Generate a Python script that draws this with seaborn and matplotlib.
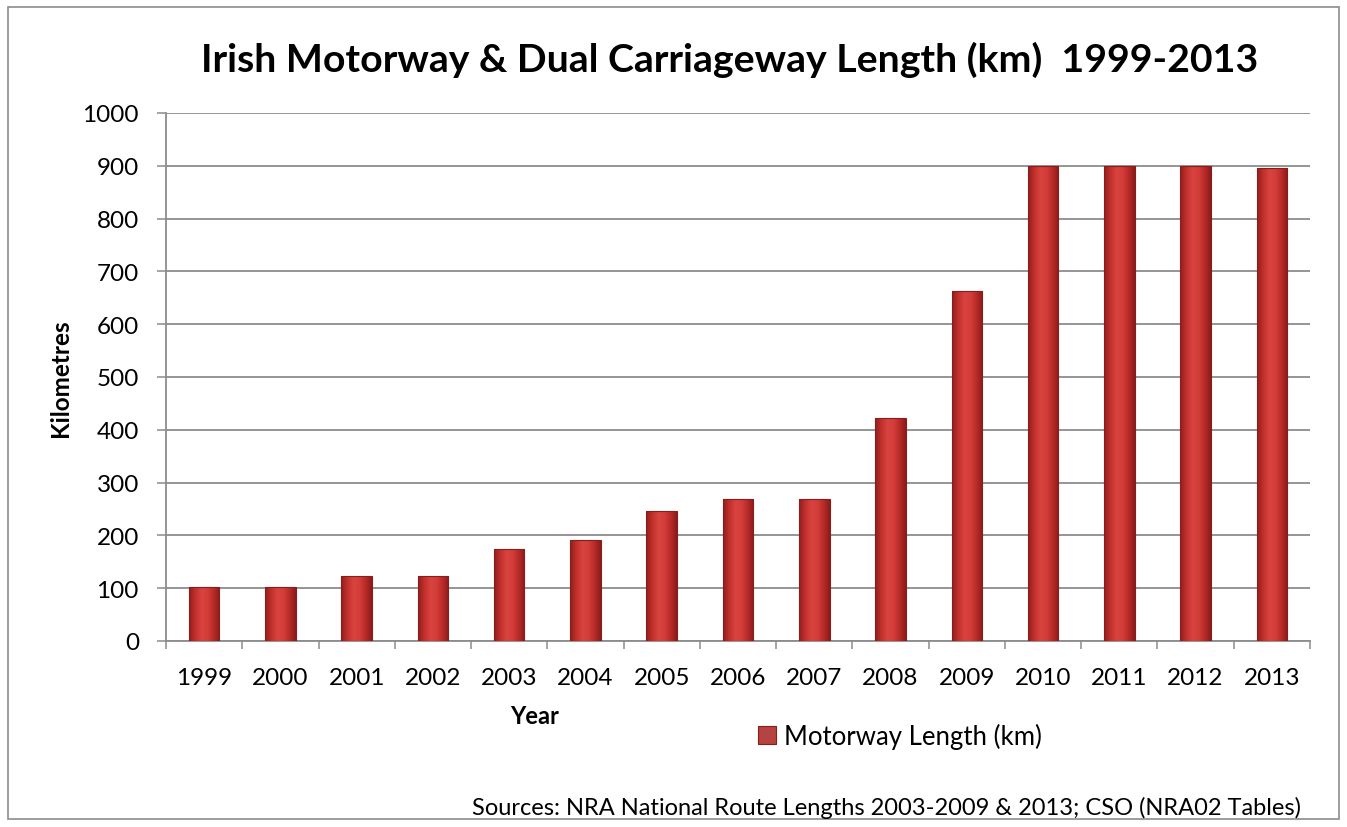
import matplotlib
matplotlib.use("Agg")
import matplotlib.pyplot as plt
import seaborn as sns
import pandas as pd
import numpy as np
from matplotlib.patches import Rectangle
from matplotlib.colors import LinearSegmentedColormap

# ---- data ----
years = ["1999", "2000", "2001", "2002", "2003", "2004", "2005", "2006",
         "2007", "2008", "2009", "2010", "2011", "2012", "2013"]
lengths = [102, 102, 124, 124, 175, 191, 246, 269, 269, 422, 663, 900, 900, 900, 896]
series_name = "Motorway Length (km)"
y_ticks = [0, 100, 200, 300, 400, 500, 600, 700, 800, 900, 1000]
title_text = "Irish Motorway & Dual Carriageway Length (km)  1999-2013"
x_label = "Year"
y_label = "Kilometres"
source_text = "Sources: NRA National Route Lengths 2003-2009 & 2013; CSO (NRA02 Tables)"

# ---- style ----
sns.set_theme(style="white")
plt.rcParams['font.family'] = ['Lato', 'DejaVu Sans']
plt.rcParams['text.color'] = 'black'
plt.rcParams['xtick.color'] = 'black'
plt.rcParams['ytick.color'] = 'black'

W, H = 1347, 828
fig = plt.figure(figsize=(W / 100, H / 100), dpi=100)
fig.patch.set_facecolor("white")
ax = fig.add_axes([166 / W, (H - 642) / H, 1144 / W, 528 / H])

bar_color = "#C8312D"
edge_color = "#8A1D1B"
grid_color = "#8C8C8C"

df = pd.DataFrame({"Year": years, "Length": lengths, "Series": series_name})
sns.barplot(data=df, x="Year", y="Length", hue="Series", palette=[bar_color],
            dodge=False, width=0.4, edgecolor=edge_color, linewidth=0.8,
            ax=ax, zorder=3)

ax.set_xlim(-0.5, len(years) - 0.5)
ax.set_ylim(0, 1000)
ax.set_yticks(y_ticks)
ax.set_yticklabels([str(v) for v in y_ticks])

# gradient shading on bars
cmap = LinearSegmentedColormap.from_list(
    "bevel", ["#8E1F1C", "#C2302C", "#D8433F", "#D43E3A", "#B82B28", "#8A1C1A"])
grad = np.linspace(0, 1, 64).reshape(1, -1)
for p in list(ax.patches):
    x0, y0 = p.get_x(), p.get_y()
    w, h = p.get_width(), p.get_height()
    if h <= 0:
        continue
    im = ax.imshow(grad, cmap=cmap, aspect="auto", extent=[x0, x0 + w, y0, y0 + h],
                   zorder=3.5, interpolation="bicubic")
    im.set_clip_path(p)
    p.set_zorder(4)
    p.set_facecolor("none")
ax.set_xlim(-0.5, len(years) - 0.5)
ax.set_ylim(0, 1000)

# grid & spines
ax.set_axisbelow(True)
ax.yaxis.grid(True, color=grid_color, linewidth=1.3)
ax.xaxis.grid(False)
for s in ["top", "right"]:
    ax.spines[s].set_visible(False)
for s in ["left", "bottom"]:
    ax.spines[s].set_color(grid_color)
    ax.spines[s].set_linewidth(1.3)

# ticks
ax.tick_params(axis="y", which="major", direction="out", length=6.5, width=1.1,
               color=grid_color, pad=13, labelsize=17.5, labelcolor="black", left=True)
ax.tick_params(axis="x", which="major", length=0, pad=19, labelsize=17.5,
               labelcolor="black", bottom=True)
ax.set_xticks(np.arange(-0.5, len(years), 1.0), minor=True)
ax.tick_params(axis="x", which="minor", direction="out", length=6, width=1.1,
               color=grid_color, bottom=True)
ax.set_xlabel("")
ax.set_ylabel("")

# labels
fig.text(730 / W, 1 - 71.5 / H, title_text, ha="center", va="baseline",
         fontsize=28.3, fontweight="bold", color="black")
fig.text(60 / W, 1 - 378 / H, y_label, ha="center", va="center", rotation=90,
         fontsize=17.5, fontweight="bold", color="black")
fig.text(535 / W, 1 - 717 / H, x_label, ha="center", va="center",
         fontsize=17, fontweight="bold", color="black")
fig.text(1301 / W, 1 - 808 / H, source_text, ha="right", va="center",
         fontsize=17, color="black")

# legend
handles, labels = ax.get_legend_handles_labels()
leg = ax.legend(handles, labels, loc="center left", bbox_to_anchor=(758 / W, 1 - 737 / H),
                bbox_transform=fig.transFigure, frameon=False, fontsize=18.5,
                handlelength=0.7, handleheight=0.7, handletextpad=0.3,
                borderpad=0, borderaxespad=0)
for t in leg.get_texts():
    t.set_color("black")

# outer border
fig.patches.append(Rectangle((8 / W, 8 / H), 1 - 16 / W, 1 - 16 / H,
                             transform=fig.transFigure, fill=False,
                             edgecolor="#8C8C8C", linewidth=1.2))

fig.savefig("out.png", dpi=100, facecolor="white")
